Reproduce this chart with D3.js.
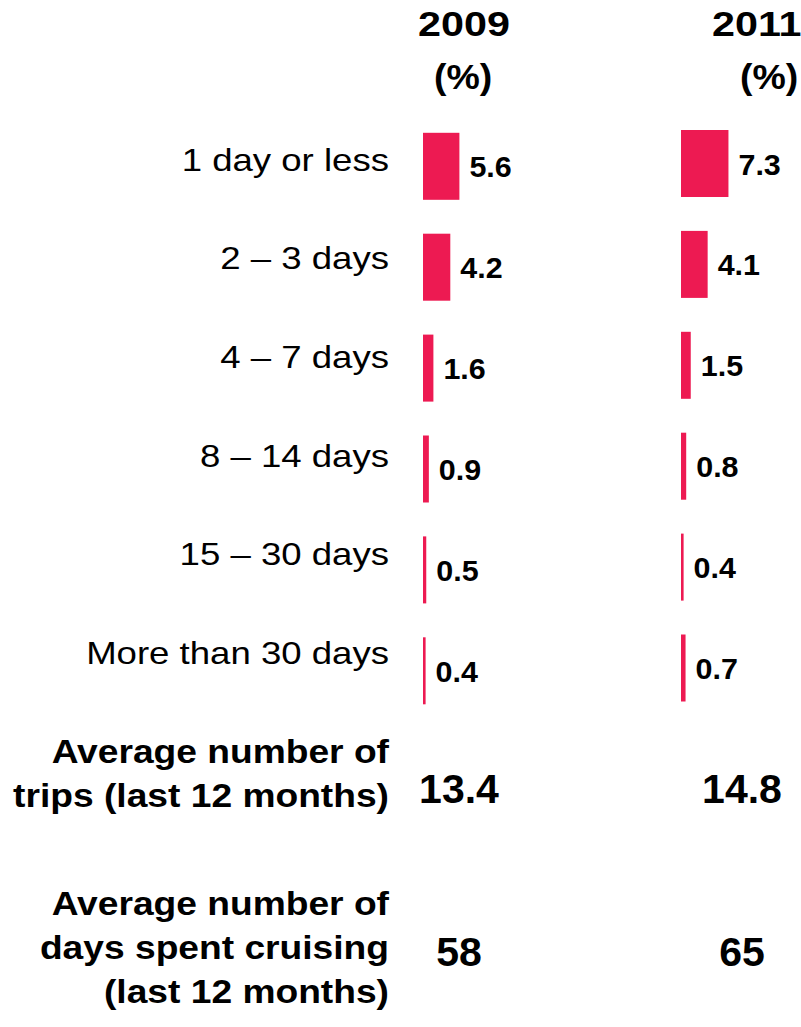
<!DOCTYPE html>
<html>
<head>
<meta charset="utf-8">
<script src="https://cdn.jsdelivr.net/npm/d3@7"></script>
<style>
  html, body { margin: 0; padding: 0; background: #ffffff; }
  svg { display: block; font-family: "Liberation Sans", Arial, sans-serif; }
</style>
</head>
<body>
<svg id="chart" width="801" height="1027"></svg>
<script>
// Trip length distribution of cruise trips, 2009 vs 2011
const years = ["2009", "2011"];
const categories = ["1 day or less", "2 – 3 days", "4 – 7 days", "8 – 14 days", "15 – 30 days", "More than 30 days"];
const share2009 = [5.6, 4.2, 1.6, 0.9, 0.5, 0.4];
const share2011 = [7.3, 4.1, 1.5, 0.8, 0.4, 0.7];

const summaryLabels = [
  ["Average number of", "trips (last 12 months)"],
  ["Average number of", "days spent cruising", "(last 12 months)"]
];
const summary2009 = ["13.4", "58"];
const summary2011 = ["14.8", "65"];

const barColor = "#ED1A52";
const svg = d3.select("#chart");

// text placed with a horizontal scale factor
function putText(sel, x, y, sx) {
  return sel.attr("x", 0).attr("y", 0)
    .attr("transform", `translate(${x},${y}) scale(${sx},1)`);
}

// Column layout for each year
const columns = [
  { year: years[0], values: share2009, summary: summary2009, x0: 423, dy: 1.4, headX: 418, pctX: 434, sumX: 459 },
  { year: years[1], values: share2011, summary: summary2011, x0: 681, dy: -1.4, headX: 712, pctX: 740, sumX: 742 }
];

// Scales
const step = 100.9, barH = 67;
const w = d3.scaleLinear().domain([0, 8]).range([0, 52]);
const rowY = d3.scaleBand().domain(categories)
  .range([131.4, 131.4 + step * (categories.length - 1) + barH])
  .paddingInner(1 - barH / step).paddingOuter(0).align(0);
const labelY = d3.scalePoint().domain(categories).range([170.7, 664]);

// Category labels
svg.append("g").selectAll("text").data(categories).join("text")
  .each(function (d) { putText(d3.select(this), 389, labelY(d), 1.18); })
  .attr("text-anchor", "end")
  .attr("font-size", 31)
  .attr("fill", "#000")
  .text(d => d);

// Headers, bars and value labels per year
columns.forEach(col => {
  const g = svg.append("g");

  putText(g.append("text"), col.headX, 36, 1.18)
    .attr("font-size", 35).attr("font-weight", "bold").text(col.year);
  putText(g.append("text"), col.pctX, 89, 1.07)
    .attr("font-size", 35).attr("font-weight", "bold").text("(%)");

  const rows = categories.map((c, i) => ({ c, v: col.values[i] }));

  g.selectAll("rect").data(rows).join("rect")
    .attr("x", col.x0)
    .attr("y", d => rowY(d.c) + col.dy)
    .attr("width", d => w(d.v))
    .attr("height", rowY.bandwidth())
    .attr("fill", barColor);

  g.selectAll("text.val").data(rows).join("text")
    .attr("class", "val")
    .each(function (d) {
      putText(d3.select(this), col.x0 + w(d.v) + 10, rowY(d.c) + col.dy + rowY.bandwidth() / 2 + 11, 1.05);
    })
    .attr("font-size", 29)
    .attr("font-weight", "bold")
    .attr("fill", "#000")
    .text(d => d3.format(".1f")(d.v));
});

// Summary block
const sumY = d3.scalePoint().domain(d3.range(summaryLabels.length)).range([803, 966]);
const firstLine = [763, 915];
const lineStep = 44;

summaryLabels.forEach((lines, i) => {
  const g = svg.append("g");
  g.selectAll("text").data(lines).join("text")
    .each(function (d, j) { putText(d3.select(this), 389, firstLine[i] + j * lineStep, 1.11); })
    .attr("text-anchor", "end")
    .attr("font-size", 33.5)
    .attr("font-weight", "bold")
    .attr("fill", "#000")
    .text(d => d);

  columns.forEach(col => {
    g.append("text")
      .attr("x", col.sumX)
      .attr("y", sumY(i))
      .attr("text-anchor", "middle")
      .attr("font-size", 41)
      .attr("font-weight", "bold")
      .attr("fill", "#000")
      .text(col.summary[i]);
  });
});
</script>
</body>
</html>
